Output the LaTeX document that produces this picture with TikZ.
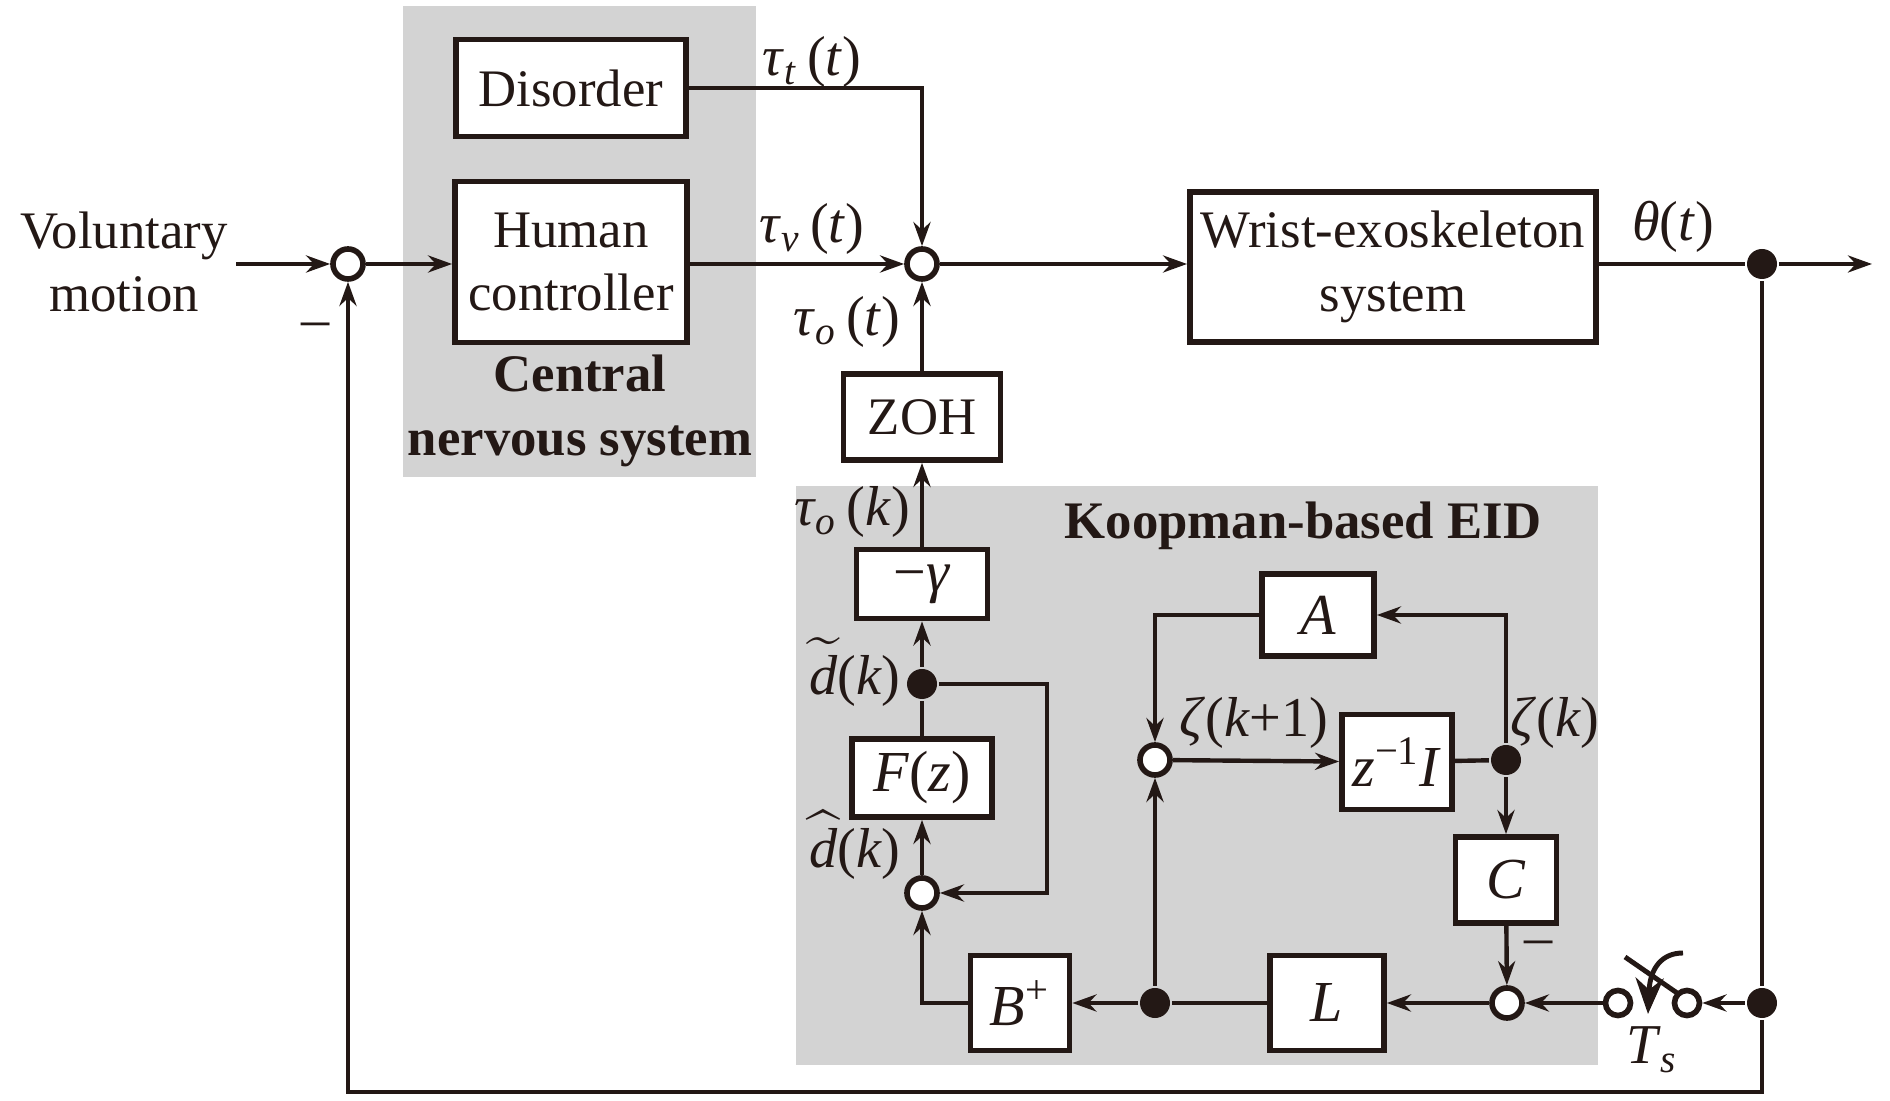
\documentclass[tikz,border=0pt]{standalone}
\usepackage{fontspec}
\setmainfont{Liberation Serif}
\usepackage{amsmath}
\usetikzlibrary{arrows.meta}
\definecolor{ink}{RGB}{35,24,21}
\definecolor{panel}{RGB}{211,211,211}
\newcommand{\mv}[1]{\textit{#1}}
\begin{document}
\begin{tikzpicture}[x=0.01cm,y=-0.01cm,
  line width=1.25pt, draw=ink,
  >={Stealth[length=0.24cm,width=0.17cm]},
  blk/.style={draw=ink, line width=1.6pt, fill=white, inner sep=0pt, align=center, text=ink,
    font=\fontsize{15}{18}\selectfont},
  mblk/.style={blk, font=\fontsize{16.5}{19}\selectfont},
  sumc/.style={circle, draw=ink, line width=1.6pt, fill=white, minimum size=0.3cm, inner sep=0pt},
  swc/.style={circle, draw=ink, line width=1.6pt, fill=white, minimum size=0.25cm, inner sep=0pt},
  dotc/.style={circle, fill=ink, minimum size=0.3cm, inner sep=0pt},
  lbl/.style={font=\fontsize{15}{18}\selectfont, text=ink, inner sep=0pt, align=center},
  mlbl/.style={font=\fontsize{16}{18}\selectfont, text=ink, inner sep=0pt},
  blbl/.style={font=\fontsize{15}{18}\selectfont\bfseries, text=ink, inner sep=0pt, align=center}
]
\path[use as bounding box] (0,0) rectangle (1890,1101);
% panels
\fill[panel] (403,6) rectangle (756,477);
\fill[panel] (796,486) rectangle (1598,1065);

% texts
\node[lbl] (vm) at (124,262) {Voluntary\\motion};
\node[blbl] (cns) at (580,411) {Central\\nervous system};
\node[blbl] (keid) at (1303,526) {Koopman-based EID};

% blocks
\node[blk, minimum width=2.30cm, minimum height=0.97cm] (dis) at (571,88) {Disorder};
\node[blk, minimum width=2.32cm, minimum height=1.61cm] (hc) at (571,262) {Human\\controller};
\node[blk, minimum width=4.06cm, minimum height=1.50cm] (wr) at (1393,267) {Wrist-exoskeleton\\system};
\node[blk, minimum width=1.57cm, minimum height=0.86cm] (zoh) at (922,417) {ZOH};
\node[mblk, minimum width=1.31cm, minimum height=0.69cm] (gam) at (922,584) {−\mv{γ}};
\node[mblk, minimum width=1.40cm, minimum height=0.78cm] (fz) at (922,778) {\mv{F}(\mv{z})};
\node[mblk, minimum width=0.99cm, minimum height=0.95cm] (bp) at (1020,1003) {\mv{B}\textsuperscript{+}};
\node[mblk, minimum width=1.14cm, minimum height=0.95cm] (L) at (1327,1003) {\mv{L}};
\node[mblk, minimum width=1.01cm, minimum height=0.86cm] (C) at (1506,880) {\mv{C}};
\node[mblk, minimum width=1.10cm, minimum height=0.95cm] (zi) at (1397,762) {\mv{z}\textsuperscript{−1}\mv{I}};
\node[mblk, minimum width=1.12cm, minimum height=0.82cm] (A) at (1318,615) {\mv{A}};

% junctions
\node[sumc] (s1) at (348,264) {};
\node[sumc] (s2) at (922,264) {};
\node[sumc] (s5) at (922,893) {};
\node[sumc] (s4) at (1155,760) {};
\node[sumc] (s3) at (1507,1003) {};
\node[swc] (sw1) at (1618,1003) {};
\node[swc] (sw2) at (1687,1003) {};
\node[dotc] (d1) at (1762,264) {};
\node[dotc] (d3) at (1762,1003) {};
\node[dotc] (d2) at (1155,1003) {};
\node[dotc] (dt) at (922,684) {};
\node[dotc] (zk) at (1506,760) {};
\coordinate (in) at (236,264);
\coordinate (out) at (1872,264);
\coordinate (bot) at (1762,1092);
\coordinate (fbk) at (1047,684);

% main loop
\draw[->] (in) -- (s1);
\draw[->] (s1) -- (s1 -| hc.west);
\draw[->] (s2 -| hc.east) -- (s2);
\draw[->] (dis.east) -| (s2);
\draw[->] (s2) -- (s2 -| wr.west);
\draw (s2 -| wr.east) -- (d1);
\draw[->] (d1) -- (out);
\draw (d1) -- (d3);
\draw[->] (d3) -- (bot) -| (s1);
\draw[->] (zoh) -- (s2);

% switch
\draw[->] (d3) -- (sw2);
\draw[->] (sw1) -- (s3);
\draw[line width=1.4pt] (1625,957) -- (1680,995);
\draw[line width=1.4pt, -{Stealth[length=0.36cm,width=0.28cm]}] (1683,953) .. controls (1662,953) and (1650,968) .. (1648,1014);

% observer
\draw[->] (s3) -- (L);
\draw (L) -- (d2);
\draw[->] (d2) -- (bp);
\draw[->] (d2) -- (s4);
\draw[->] (s4) -- (zi);
\draw (zi) -- (zk);
\draw[->] (zk) -- (C);
\draw[->] (C) -- (s3);
\draw[->] (zk) -- (zk |- A.east) -- (A.east);
\draw[->] (A.west) -| (s4);
\draw[->] (bp.west) -| (s5);
\draw[->] (s5) -- (fz);
\draw (fz) -- (dt);
\draw[->] (dt) -- (gam);
\draw[->] (gam) -- (zoh);
\draw[->] (dt) -- (fbk) |- (s5);

% labels
\node[mlbl] (ltt) at (812,62) {\mv{τ}\textsubscript{\mv{t}}\,(\mv{t})};
\node[mlbl] (ltv) at (812,229) {\mv{τ}\textsubscript{\mv{v}}\,(\mv{t})};
\node[mlbl] (lto) at (847,322) {\mv{τ}\textsubscript{\mv{o}}\,(\mv{t})};
\node[mlbl] (lth) at (1673,227) {\mv{θ}(\mv{t})};
\node[mlbl] (ltk) at (852,512) {\mv{τ}\textsubscript{\mv{o}}\,(\mv{k})};
\node[mlbl] (ldt) at (855,672) {$\widetilde{\textit{d}}$(\mv{k})};
\node[mlbl] (ldh) at (855,845) {$\widehat{\textit{d}}$(\mv{k})};
\node[mlbl] (lz1) at (1254,723) {\mv{ζ}(\mv{k}+1)};
\node[mlbl] (lzk) at (1555,723) {\mv{ζ}(\mv{k})};
\node[mlbl] (lts) at (1652,1050) {\mv{T}\textsubscript{\mv{s}}};
\node[mlbl] (m1) at (316,330) {–};
\node[mlbl] (m2) at (1539,948) {–};
\end{tikzpicture}
\end{document}
